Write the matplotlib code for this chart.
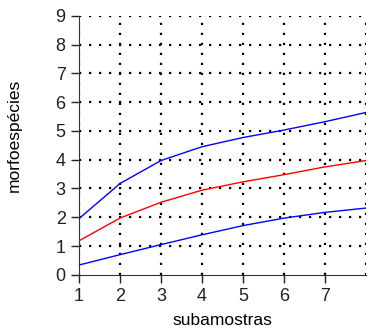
import matplotlib.pyplot as plt

plt.rcParams["font.family"] = ["Liberation Sans", "DejaVu Sans"]

subamostras = [1, 2, 3, 4, 5, 6, 7, 8]
superior = [1.95, 3.17, 3.97, 4.45, 4.77, 5.03, 5.32, 5.64]
media = [1.18, 1.97, 2.52, 2.94, 3.23, 3.48, 3.75, 3.97]
inferior = [0.34, 0.70, 1.05, 1.39, 1.71, 1.97, 2.17, 2.32]

x_ticks = [1, 2, 3, 4, 5, 6, 7]
y_ticks = [0, 1, 2, 3, 4, 5, 6, 7, 8, 9]

fig = plt.figure(figsize=(3.67, 3.36), dpi=100)
ax = fig.add_axes([0.215, 0.182, 0.782, 0.771])

for v in range(1, 9):
    ax.axvline(v, color="black", linestyle=(0, (1, 3.5)), linewidth=1.6, zorder=1)
for v in range(1, 10):
    ax.axhline(v, color="black", linestyle=(0, (1, 3.5)), linewidth=1.6, zorder=1)

ax.plot(subamostras, superior, color="#0000ff", linewidth=1, zorder=3)
ax.plot(subamostras, media, color="#ff0000", linewidth=1, zorder=3)
ax.plot(subamostras, inferior, color="#0000ff", linewidth=1, zorder=3)

ax.set_xlim(1, 8)
ax.set_ylim(0, 9)
ax.set_xticks(x_ticks)
ax.set_yticks(y_ticks)
ax.tick_params(labelsize=13, length=6, width=1, direction="out", colors="#222222")
ax.spines["top"].set_visible(False)
ax.spines["right"].set_visible(False)
ax.spines["left"].set_color("#333333")
ax.spines["bottom"].set_color("#333333")

ax.set_xlabel("subamostras", fontsize=12.5, labelpad=6)
ax.set_ylabel("morfoespécies", fontsize=12.5)
ax.yaxis.set_label_coords(-0.2, 0.54)

fig.savefig("out.png", dpi=100)
